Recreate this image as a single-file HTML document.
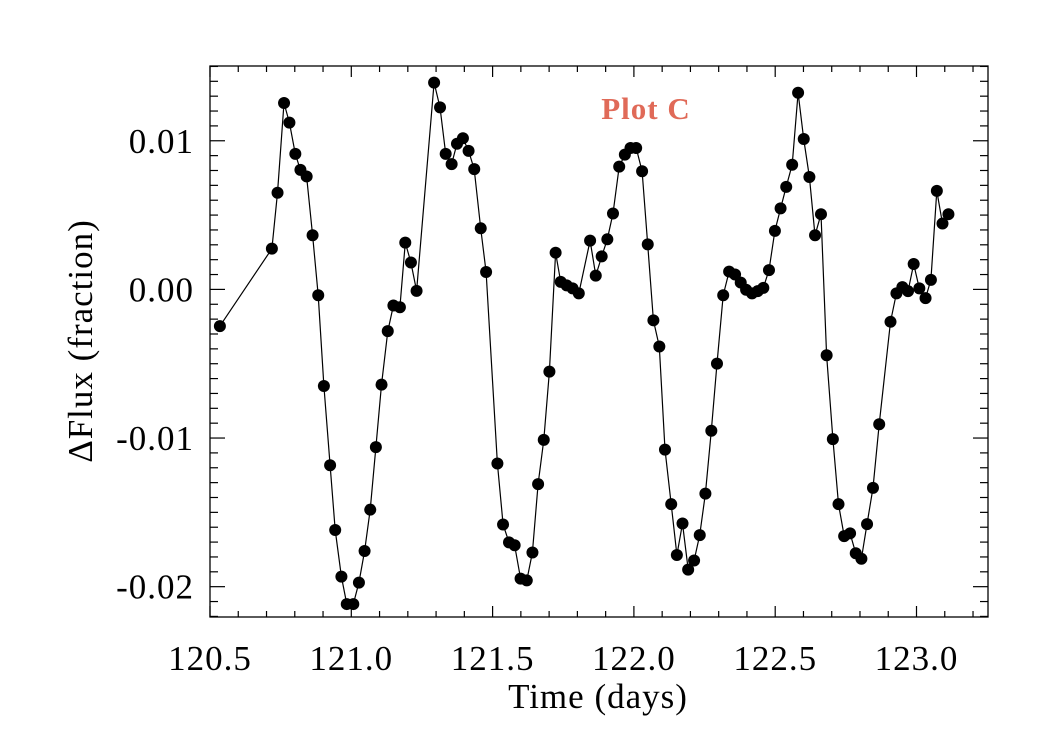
<!DOCTYPE html>
<html><head><meta charset="utf-8"><style>
html,body{margin:0;padding:0;background:#fff;}
svg text{font-family:"Liberation Serif",serif;}
</style></head><body>
<svg id="chart" width="1050" height="750" xmlns="http://www.w3.org/2000/svg">
<rect x="0" y="0" width="1050" height="750" fill="#fff"/>
<g id="ticks"></g>
<g id="series"></g>
<rect x="210" y="66" width="778" height="551" fill="none" stroke="#000" stroke-width="1.3"/>
<text x="646" y="119" font-size="31" font-weight="bold" fill="#e06a58" text-anchor="middle" letter-spacing="1">Plot C</text>
<text x="598" y="708" font-size="35" text-anchor="middle" letter-spacing="1">Time (days)</text>
<text transform="translate(92,341) rotate(-90)" font-size="35" text-anchor="middle" letter-spacing="1">ΔFlux (fraction)</text>
</svg>
<script>
const days = [120.535,120.719,120.739,120.762,120.781,120.802,120.820,120.842,120.863,120.883,120.903,120.925,120.943,120.965,120.984,121.007,121.027,121.047,121.067,121.087,121.107,121.129,121.149,121.172,121.191,121.211,121.231,121.293,121.314,121.334,121.355,121.374,121.395,121.415,121.435,121.458,121.477,121.517,121.537,121.558,121.578,121.599,121.621,121.641,121.661,121.681,121.701,121.723,121.741,121.762,121.783,121.805,121.845,121.865,121.886,121.906,121.926,121.948,121.968,121.988,122.008,122.029,122.049,122.069,122.090,122.110,122.132,122.152,122.172,122.192,122.213,122.233,122.253,122.274,122.294,122.316,122.337,122.358,122.378,122.397,122.418,122.438,122.458,122.478,122.499,122.519,122.539,122.560,122.581,122.601,122.621,122.641,122.662,122.682,122.704,122.724,122.744,122.765,122.785,122.805,122.825,122.846,122.868,122.908,122.929,122.950,122.970,122.990,123.010,123.032,123.051,123.072,123.092,123.113];
const flux = [-0.00247,0.00274,0.0065,0.01254,0.01122,0.00912,0.00804,0.0076,0.00364,-0.00039,-0.0065,-0.01183,-0.01619,-0.01932,-0.02117,-0.02117,-0.01973,-0.0176,-0.01482,-0.01061,-0.00641,-0.00281,-0.00108,-0.0012,0.00315,0.00181,-0.0001,0.01391,0.01225,0.00912,0.00843,0.0098,0.01017,0.00932,0.00809,0.00411,0.00117,-0.01171,-0.01582,-0.01702,-0.01721,-0.01946,-0.01958,-0.0177,-0.0131,-0.01012,-0.00553,0.00247,0.00051,0.00027,0.00007,-0.00027,0.00328,0.00093,0.00222,0.00337,0.00511,0.00826,0.00907,0.00951,0.00951,0.00795,0.00303,-0.00208,-0.00384,-0.01078,-0.01445,-0.01787,-0.01575,-0.01885,-0.01824,-0.01653,-0.01374,-0.00951,-0.00499,-0.00039,0.0012,0.001,0.00046,-0.00002,-0.00027,-0.00012,0.0001,0.0013,0.00394,0.00545,0.0069,0.00839,0.01323,0.01012,0.00756,0.00364,0.00506,-0.00443,-0.01007,-0.01445,-0.0166,-0.01641,-0.01775,-0.01812,-0.01579,-0.01335,-0.00907,-0.00218,-0.00027,0.00015,-0.00012,0.00171,0.00007,-0.00059,0.00064,0.00663,0.00443,0.00506];
const xTickVals = [120.5,121.0,121.5,122.0,122.5,123.0];
const xTickLabels = ["120.5","121.0","121.5","122.0","122.5","123.0"];
const yTickVals = [0.01,0.0,-0.01,-0.02];
const yTickLabels = ["0.01","0.00","-0.01","-0.02"];

const L=210,R=988,T=66,B=617;
const X0=120.5,X1=123.253,Y0=-0.02204,Y1=0.01503;
function sx(v){return L+(v-X0)/(X1-X0)*(R-L);}
function sy(v){return B-(v-Y0)/(Y1-Y0)*(B-T);}
const NS="http://www.w3.org/2000/svg";
function mk(tag,attrs,parent){const e=document.createElementNS(NS,tag);for(const k in attrs)e.setAttribute(k,attrs[k]);parent.appendChild(e);return e;}
const tg=document.getElementById('ticks');
for(let i=0;i<=27;i++){
  const v=X0+i*0.1; const x=sx(v); const major=(i%5===0); const len=major?11:6;
  const a=mk('line',{x1:x,x2:x,y1:B,y2:B-len,stroke:'#000','stroke-width':1.2},tg);
  
  
  const b=mk('line',{x1:x,x2:x,y1:T,y2:T+len,stroke:'#000','stroke-width':1.2},tg);
  
  
}
xTickVals.forEach((v,i)=>{
  const t=mk('text',{x:sx(v),y:670,'font-size':35,'text-anchor':'middle','letter-spacing':1},tg);
  t.textContent=xTickLabels[i];
  
  
});
for(let i=-22;i<=15;i++){
  const v=i*0.001; const y=sy(v); const major=(i%10===0); const len=major?15:8;
  const a=mk('line',{x1:L,x2:L+len,y1:y,y2:y,stroke:'#000','stroke-width':1.2},tg);
  
  
  const b=mk('line',{x1:R,x2:R-len,y1:y,y2:y,stroke:'#000','stroke-width':1.2},tg);
  
  
}
yTickVals.forEach((v,i)=>{
  const t=mk('text',{x:194,y:sy(v)+12,'font-size':35,'text-anchor':'end','letter-spacing':1},tg);
  t.textContent=yTickLabels[i];
  
  
});
const sg=document.getElementById('series');
const pts=days.map((d,i)=>sx(d).toFixed(1)+','+sy(flux[i]).toFixed(1)).join(' ');
const pl=mk('polyline',{points:pts,fill:'none',stroke:'#000','stroke-width':1.2},sg);


days.forEach((d,i)=>{
  const c=mk('circle',{cx:sx(d),cy:sy(flux[i]),r:6,fill:'#000'},sg);
  
  
});
</script>
</body></html>
